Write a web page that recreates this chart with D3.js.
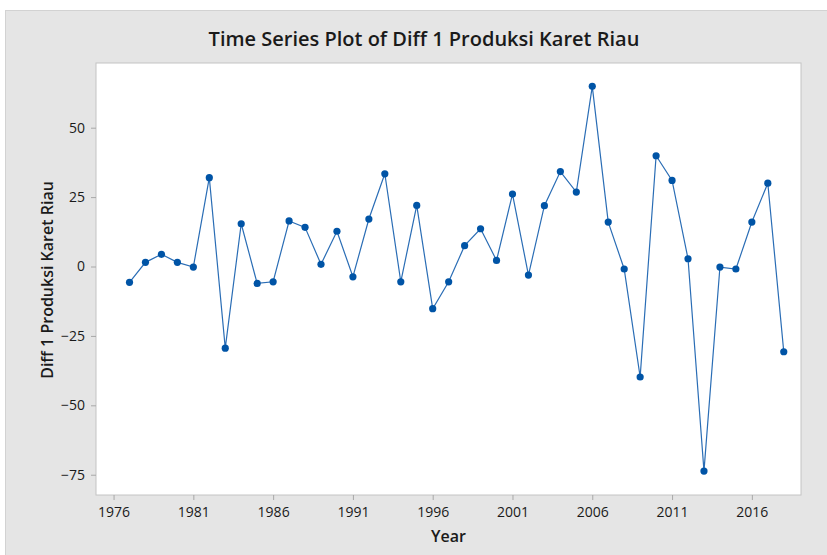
<!DOCTYPE html>
<html>
<head>
<meta charset="utf-8">
<script src="https://cdn.jsdelivr.net/npm/d3@7"></script>
<style>
  body { margin: 0; background: #fff; }
  text { font-family: "Open Sans", "Noto Sans", sans-serif; fill: #1a1a1a; }
</style>
</head>
<body>
<div id="chart"></div>
<script>
// data
var years = d3.range(1977, 2019);
var diffValues = [
  -5.7, 1.5, 4.4, 1.5, -0.2, 32.0, -29.4, 15.4, -6.1, -5.5,
  16.4, 14.1, 0.8, 12.7, -3.7, 17.1, 33.4, -5.5, 22.0, -15.2,
  -5.5, 7.5, 13.6, 2.2, 26.1, -3.1, 21.9, 34.2, 26.8, 64.9,
  16.0, -0.9, -39.8, 39.9, 31.0, 2.8, -73.7, -0.2, -0.9, 16.0,
  30.0, -30.7
];
var xTicks = [1976, 1981, 1986, 1991, 1996, 2001, 2006, 2011, 2016];
var yTicks = [50, 25, 0, -25, -50, -75];

var data = years.map(function(y, i) { return {year: y, value: diffValues[i]}; });

var svgWidth = 827;
var svgHeight = 555;

var margin = {top: 63, right: 26, bottom: 60, left: 96};
var width = svgWidth - margin.left - margin.right;
var height = svgHeight - margin.top - margin.bottom;

var svg = d3.select("#chart")
    .append("svg")
    .attr("width", svgWidth)
    .attr("height", svgHeight);

// grey outer panel
svg.append("rect")
    .attr("x", 5.5)
    .attr("y", 10.5)
    .attr("width", svgWidth - 5)
    .attr("height", svgHeight - 10)
    .attr("fill", "#e5e5e5")
    .attr("stroke", "#d2d2d2");

var chartGroup = svg.append("g")
    .attr("transform", `translate(${margin.left}, ${margin.top})`);

chartGroup.append("rect")
    .attr("width", width)
    .attr("height", height)
    .attr("fill", "#fff")
    .attr("stroke", "#c4c4c4");

var xScale = d3.scaleLinear()
    .domain([1974.9, 2019.08])
    .range([0, width]);

var yScale = d3.scaleLinear()
    .domain([-82.3, 73.3])
    .range([height, 0]);

var bottomAxis = d3.axisBottom(xScale)
    .tickValues(xTicks)
    .tickFormat(d3.format("d"))
    .tickSize(5)
    .tickPadding(7);

var leftAxis = d3.axisLeft(yScale)
    .tickValues(yTicks)
    .tickSize(5)
    .tickPadding(6);

var xAxisG = chartGroup.append("g")
    .attr("transform", `translate(0, ${height})`)
    .call(bottomAxis);

var yAxisG = chartGroup.append("g")
    .call(leftAxis);

[xAxisG, yAxisG].forEach(function(g) {
    g.select(".domain").remove();
    g.selectAll(".tick line").attr("stroke", "#a8a8a8");
    g.selectAll(".tick text")
        .style("font-size", "14px")
        .style("font-family", "'Open Sans', sans-serif")
        .attr("fill", "#1a1a1a");
});

var line = d3.line()
    .x(d => xScale(d.year))
    .y(d => yScale(d.value));

chartGroup.append("path")
    .datum(data)
    .attr("d", line)
    .attr("fill", "none")
    .attr("stroke", "#2a6db5")
    .attr("stroke-width", 1.2);

chartGroup.selectAll("circle")
    .data(data)
    .enter()
    .append("circle")
    .attr("cx", d => xScale(d.year))
    .attr("cy", d => yScale(d.value))
    .attr("r", 3.6)
    .attr("fill", "#0054a6");

// title and axis labels
svg.append("text")
    .attr("x", 424)
    .attr("y", 46)
    .attr("text-anchor", "middle")
    .style("font-size", "20px")
    .style("font-weight", "600")
    .text("Time Series Plot of Diff 1 Produksi Karet Riau");

svg.append("text")
    .attr("x", margin.left + width / 2)
    .attr("y", 542)
    .attr("text-anchor", "middle")
    .style("font-size", "16px")
    .style("font-weight", "600")
    .text("Year");

svg.append("text")
    .attr("transform", "rotate(-90)")
    .attr("x", -280)
    .attr("y", 53)
    .attr("text-anchor", "middle")
    .style("font-size", "16px")
    .style("font-weight", "600")
    .text("Diff 1 Produksi Karet Riau");
</script>
</body>
</html>
